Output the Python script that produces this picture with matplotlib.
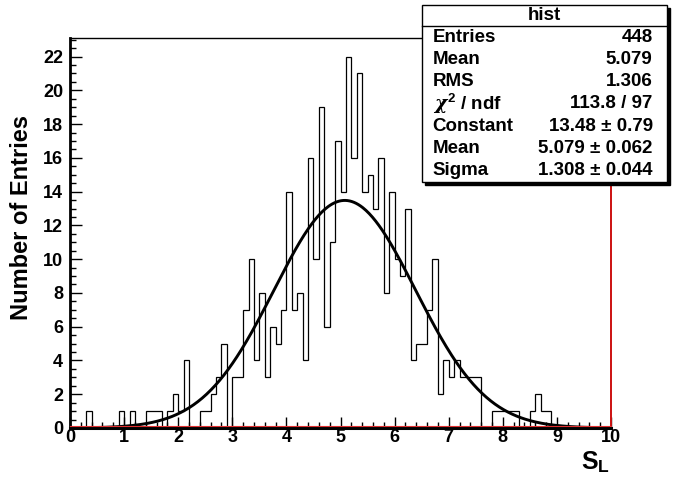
import numpy as np
import matplotlib.pyplot as plt
from matplotlib.patches import Rectangle
from matplotlib.lines import Line2D
from matplotlib.transforms import ScaledTranslation
from matplotlib.ticker import MultipleLocator

plt.rcParams['font.family'] = ['Liberation Sans', 'DejaVu Sans']
plt.rcParams['font.weight'] = 'bold'
plt.rcParams['mathtext.fontset'] = 'custom'
plt.rcParams['mathtext.rm'] = 'Liberation Sans:bold'
plt.rcParams['mathtext.it'] = 'DejaVu Serif:italic'

# 100 bins on [0, 10]
edges = np.linspace(0, 10, 101)
counts = np.array(
    [0, 0, 0, 1, 0, 0, 0, 0, 0, 1,
     0, 1, 0, 0, 1, 1, 1, 0, 1, 2,
     1, 4, 0, 0, 1, 1, 2, 3, 5, 0,
     3, 3, 7, 10, 4, 8, 3, 6, 5, 7,
     14, 7, 8, 4, 16, 10, 19, 6, 11, 17,
     14, 22, 16, 21, 14, 15, 13, 16, 8, 14,
     10, 9, 13, 4, 5, 5, 7, 10, 2, 4,
     3, 4, 3, 3, 3, 3, 0, 0, 1, 1,
     1, 1, 1, 0, 0, 1, 2, 1, 1, 0,
     0, 0, 0, 0, 0, 0, 0, 0, 0, 0])

# gaussian fit results
fit_const = 13.48
fit_mean = 5.079
fit_sigma = 1.308

stat_names = ['Entries', 'Mean', 'RMS', r'$\chi^{2}$ / ndf', 'Constant', 'Mean', 'Sigma']
stat_values = ['448', '5.079', '1.306', '113.8 / 97', '13.48 \u00b1 0.79',
               '5.079 \u00b1 0.062', '1.308 \u00b1 0.044']

W, H = 685, 479
fig = plt.figure(figsize=(W / 100, H / 100), dpi=100)
ax = fig.add_axes([70 / W, (H - 428) / H, 541 / W, 390 / H])


def px(x, y):
    return x / W, 1 - y / H


ax.stairs(counts, edges, color='black', lw=0.9, zorder=3)

xf = np.linspace(0, 10, 500)
yf = fit_const * np.exp(-0.5 * ((xf - fit_mean) / fit_sigma) ** 2)
ax.plot(xf, yf, color='black', lw=2.1, zorder=4)

ax.set_xlim(0, 10)
ax.set_ylim(0, 23.1)
ax.xaxis.set_major_locator(MultipleLocator(1))
ax.xaxis.set_minor_locator(MultipleLocator(0.2))
ax.yaxis.set_major_locator(MultipleLocator(2))
ax.yaxis.set_minor_locator(MultipleLocator(0.5))
ax.tick_params(which='both', direction='in', top=False, right=False,
               labelsize=13, color='black')
ax.tick_params(axis='x', which='major', length=8, width=1, pad=1)
ax.tick_params(axis='x', which='minor', length=4, width=1)
ax.tick_params(axis='y', which='major', length=8.5, width=1, pad=5)
ax.tick_params(axis='y', which='minor', length=4.3, width=1)
for lab in ax.get_xticklabels() + ax.get_yticklabels():
    lab.set_fontweight('bold')

ax.spines['left'].set_linewidth(2)
ax.spines['bottom'].set_linewidth(2.2)
ax.spines['top'].set_linewidth(1)
ax.spines['right'].set_linewidth(1.4)
ax.spines['right'].set_color('#cc1010')

# thin red frame edge just above the x axis
shift = ScaledTranslation(0, 1.6 / 100, fig.dpi_scale_trans)
ax.plot([0, 1], [0, 0], color='#e03030', lw=0.8, transform=ax.transAxes + shift,
        clip_on=False, zorder=5)

fig.text(*px(22, 218), 'Number of Entries', rotation=90, ha='center', va='center',
         fontsize=17, fontweight='bold')
fig.text(*px(596, 462), r'S$_{\mathregular{L}}$', ha='center', va='center',
         fontsize=18, fontweight='bold')

# statistics box
bx0, bx1, by0, by1 = 421.7, 666.7, 5, 182
sx, sy = px(bx0 + 3, by1 + 3)
fig.add_artist(Rectangle((sx, sy), (bx1 - bx0) / W, (by1 - by0) / H,
                         transform=fig.transFigure, facecolor='black',
                         edgecolor='black', zorder=10))
x0, y0 = px(bx0, by1)
fig.add_artist(Rectangle((x0, y0), (bx1 - bx0) / W, (by1 - by0) / H,
                         transform=fig.transFigure, facecolor='white',
                         edgecolor='black', lw=1, zorder=11))
fig.add_artist(Line2D([bx0 / W, bx1 / W], [1 - 26 / H, 1 - 26 / H],
                      transform=fig.transFigure, color='black', lw=1, zorder=12))
fig.text(*px((bx0 + bx1) / 2, 15.5), 'hist', ha='center', va='center',
         fontsize=13.5, fontweight='bold', zorder=12)
row_h = (by1 - 26) / 7
for i, (name, val) in enumerate(zip(stat_names, stat_values)):
    yc = 26 + row_h * (i + 0.5)
    fig.text(*px(432.7, yc), name, ha='left', va='center', fontsize=13.5,
             fontweight='bold', zorder=12)
    fig.text(*px(652.7, yc), val, ha='right', va='center', fontsize=13.5,
             fontweight='bold', zorder=12)

fig.savefig('out.png', dpi=100)
